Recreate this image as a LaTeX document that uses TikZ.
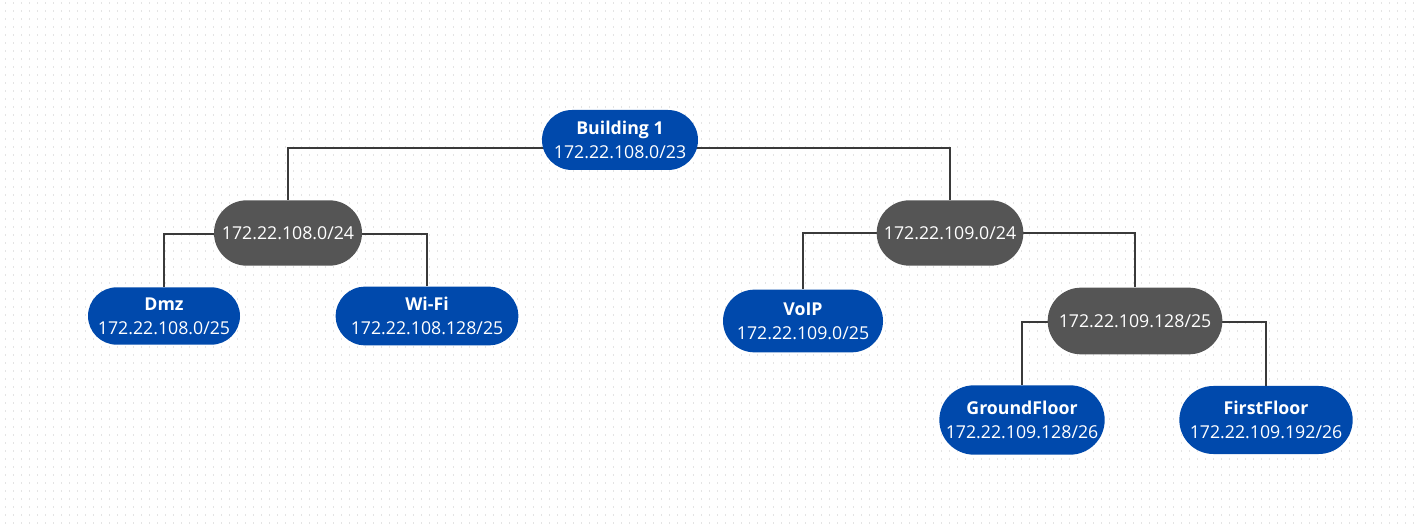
\documentclass[tikz,border=0pt]{standalone}
\usepackage{fontspec}
\setmainfont{Open Sans}
\usepackage{xcolor}
\usetikzlibrary{shapes.misc,backgrounds}
\definecolor{netblue}{HTML}{0049AC}
\definecolor{subgray}{HTML}{555555}
\definecolor{wire}{HTML}{3A3A3A}
\definecolor{griddot}{HTML}{E4E4E4}
\tikzset{
  box/.style={rounded rectangle, text=white, inner sep=0pt, align=center,
    font=\fontsize{13.3}{18}\selectfont},
  net/.style={box, fill=netblue},
  sub/.style={box, fill=subgray},
  link/.style={draw=wire, line width=0.8pt},
  dots/.style={draw=griddot, line width=1pt, dash pattern=on 0.9pt off 5.1pt},
}

\begin{document}
\begin{tikzpicture}[x=0.75pt, y=-0.75pt]
  \useasboundingbox (0,0) rectangle (1419,530);
  % blocks
  \node[net, minimum width=117pt, minimum height=45pt] (b1) at (620,140)
    {\textbf{Building 1}\\172.22.108.0/23};
  \node[sub, minimum width=111pt, minimum height=49pt] (s108) at (288,233)
    {172.22.108.0/24};
  \node[sub, minimum width=110pt, minimum height=49pt] (s109) at (950,233)
    {172.22.109.0/24};
  \node[net, minimum width=114pt, minimum height=43pt] (dmz) at (164,316)
    {\textbf{Dmz}\\172.22.108.0/25};
  \node[net, minimum width=137pt, minimum height=44pt] (wifi) at (427,316)
    {\textbf{Wi-Fi}\\172.22.108.128/25};
  \node[net, minimum width=120pt, minimum height=47pt] (voip) at (803,321)
    {\textbf{VoIP}\\172.22.109.0/25};
  \node[sub, minimum width=131pt, minimum height=50pt] (s128) at (1135,321)
    {172.22.109.128/25};
  \node[net, minimum width=124pt, minimum height=52pt] (ground) at (1022,420)
    {\textbf{GroundFloor}\\172.22.109.128/26};
  \node[net, minimum width=130pt, minimum height=51pt] (first) at (1266,420)
    {\textbf{FirstFloor}\\172.22.109.192/26};
  % grid and wires
  \begin{scope}[on background layer]
    \foreach \y in {3,11,...,530}
      \draw[dots] (5,\y) -- (1419,\y);
    \draw[link] (b1.center |- 0,148) -| (s108.north);
    \draw[link] (b1.center |- 0,148) -| (s109.north);
    \draw[link] (s108.center |- 0,234) -| (dmz.north);
    \draw[link] (s108.center |- 0,234) -| (wifi.north);
    \draw[link] (s109.center |- 0,233) -| (voip.north);
    \draw[link] (s109.center |- 0,233) -| (s128.north);
    \draw[link] (s128.center |- 0,322) -| (ground.north);
    \draw[link] (s128.center |- 0,322) -| (first.north);
  \end{scope}
\end{tikzpicture}
\end{document}
